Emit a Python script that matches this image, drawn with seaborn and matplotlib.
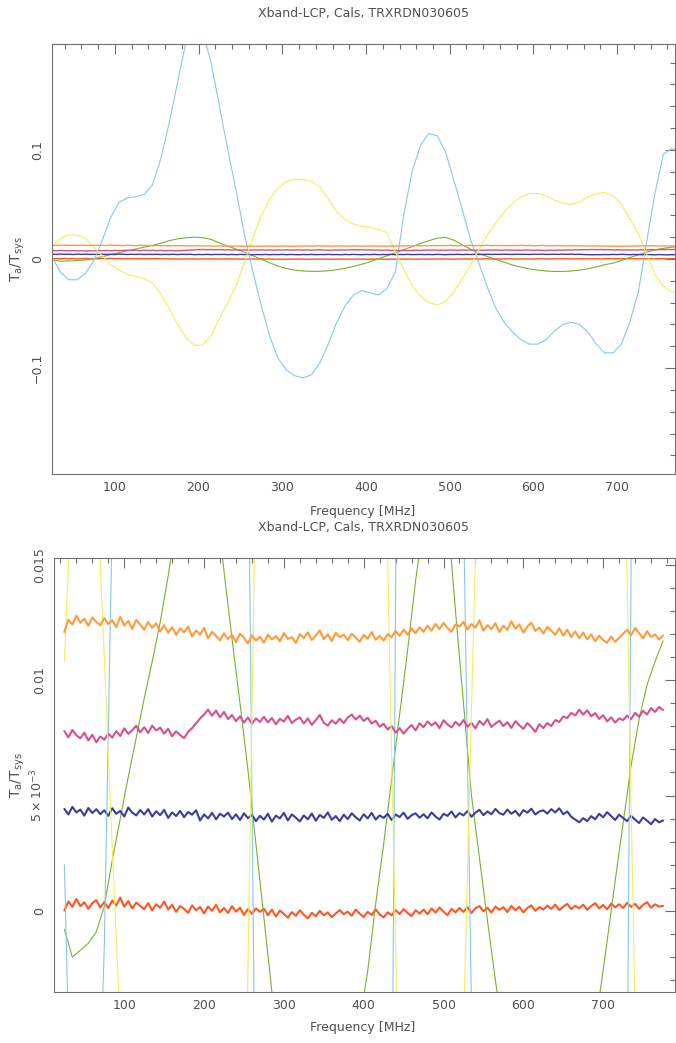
import pandas as pd
import matplotlib
matplotlib.use("Agg")
import matplotlib.pyplot as plt
import seaborn as sns
from matplotlib.ticker import MultipleLocator, FixedLocator, FixedFormatter

title = "Xband-LCP, Cals, TRXRDN030605"
xlabel = "Frequency [MHz]"
ylabel = r"$\mathregular{T_a/T_{sys}}$"

# smooth cal curves, one value every 10 MHz (25 ... 775)
freq_smooth = list(range(25, 776, 10))
green = [-0.0008, -0.0020, -0.0017, -0.0014, -0.0009, 0.0002, 0.0022, 0.0040, 0.0058, 0.0075,
         0.0092, 0.0108, 0.0125, 0.0145, 0.0168, 0.0185, 0.0195, 0.0200, 0.0195, 0.0180,
         0.0147, 0.0118, 0.0090, 0.0061, 0.0029, -0.0003, -0.0035, -0.0065, -0.0088, -0.0102,
         -0.0110, -0.0113, -0.0112, -0.0108, -0.0098, -0.0085, -0.0068, -0.0048, -0.0026, 0.0003,
         0.0029, 0.0057, 0.0085, 0.0113, 0.0143, 0.0168, 0.0190, 0.0198, 0.0172, 0.0130,
         0.0090, 0.0050, 0.0023, -0.0004, -0.0030, -0.0055, -0.0075, -0.0090, -0.0102, -0.0110,
         -0.0114, -0.0114, -0.0110, -0.0102, -0.0090, -0.0072, -0.0052, -0.0038, -0.0013, 0.0013,
         0.0038, 0.0063, 0.0083, 0.0098, 0.0108, 0.0117]
cyan = [0.002, -0.012, -0.019, -0.019, -0.013, -0.0015, 0.017, 0.038, 0.052, 0.056,
        0.057, 0.059, 0.068, 0.092, 0.125, 0.162, 0.199, 0.215, 0.208, 0.180,
        0.140, 0.100, 0.062, 0.022, -0.012, -0.043, -0.071, -0.091, -0.102, -0.107,
        -0.109, -0.106, -0.095, -0.078, -0.058, -0.043, -0.033, -0.029, -0.031, -0.033,
        -0.027, -0.012, 0.040, 0.080, 0.104, 0.115, 0.113, 0.098, 0.072, 0.045,
        0.0175, -0.0042, -0.026, -0.045, -0.058, -0.067, -0.074, -0.078, -0.078, -0.074,
        -0.066, -0.060, -0.058, -0.060, -0.067, -0.078, -0.086, -0.086, -0.078, -0.058,
        -0.031, 0.015, 0.060, 0.096, 0.101, 0.099]
yellow = [0.0108, 0.019, 0.022, 0.022, 0.019, 0.011, 0.0027, -0.005, -0.010, -0.014,
          -0.016, -0.018, -0.022, -0.032, -0.045, -0.060, -0.072, -0.079, -0.079, -0.070,
          -0.054, -0.040, -0.024, -0.0024, 0.0197, 0.040, 0.055, 0.065, 0.071, 0.073,
          0.073, 0.071, 0.066, 0.055, 0.043, 0.036, 0.032, 0.030, 0.029, 0.027,
          0.024, 0.0067, -0.0098, -0.024, -0.034, -0.040, -0.042, -0.039, -0.030, -0.018,
          -0.0053, 0.0087, 0.022, 0.033, 0.043, 0.051, 0.057, 0.060, 0.060, 0.058,
          0.054, 0.051, 0.050, 0.052, 0.057, 0.060, 0.061, 0.058, 0.050, 0.037,
          0.0237, 0.0047, -0.014, -0.025, -0.030, -0.031]

# noisy cal levels, one value every 5 MHz (25 ... 775)
freq_noisy = list(range(25, 776, 5))
red = [0.00002, 0.00041, 0.00018, 0.00052, 0.00021, 0.00038, 0.00009, 0.00034, 0.00047, 0.00015,
       0.00039, 0.00012, 0.00045, 0.00024, 0.00058, 0.00019, 0.00043, 0.00011, 0.00036, 0.00022,
       0.00008, 0.00034, 0.00002, 0.00029, 0.00014, 0.00041, 0.00006, 0.00027, -0.00004, 0.00021,
       0.00009, -0.00008, 0.00024, 0.00003, 0.00017, -0.00011, 0.00019, 0.00001, 0.00026, -0.00006,
       0.00013, -0.00009, 0.00021, -0.00003, 0.00014, -0.00017, 0.00008, -0.00012, 0.00011, -0.00004,
       0.00009, -0.00018, 0.00006, -0.00024, 0.00002, -0.00013, -0.00029, -0.00005, -0.00021, 0.00003,
       -0.00016, -0.00032, -0.00008, -0.00023, 0.00001, -0.00019, -0.00006, -0.00027, -0.00011, 0.00004,
       -0.00014, -0.00003, -0.00021, 0.00006, -0.00012, -0.00026, -0.00004, -0.00018, 0.00007, -0.00015,
       -0.00028, -0.00006, -0.00019, 0.00004, -0.00013, 0.00008, -0.00009, -0.00022, 0.00003, -0.00011,
       0.00006, -0.00014, 0.00011, -0.00007, 0.00015, -0.00003, -0.00018, 0.00009, -0.00006, 0.00013,
       -0.00004, 0.00017, -0.00009, 0.00012, 0.00021, -0.00002, 0.00014, -0.00007, 0.00019, 0.00005,
       0.00016, -0.00005, 0.00022, 0.00003, 0.00018, -0.00006, 0.00013, 0.00024, 0.00001, 0.00017,
       0.00006, 0.00023, 0.00009, 0.00028, 0.00004, 0.00019, 0.00031, 0.00008, 0.00022, 0.00012,
       0.00027, 0.00005, 0.00021, 0.00034, 0.00011, 0.00026, 0.00007, 0.00032, 0.00016, 0.00029,
       0.00013, 0.00035, 0.00018, 0.00031, 0.00009, 0.00027, 0.00038, 0.00014, 0.00029, 0.00019,
       0.00022]
blue = [0.00442, 0.00418, 0.00451, 0.00427, 0.00439, 0.00413, 0.00446, 0.00424, 0.00441, 0.00419,
        0.00436, 0.00412, 0.00445, 0.00421, 0.00433, 0.00409, 0.00448, 0.00426, 0.00414, 0.00437,
        0.00418, 0.00441, 0.00409, 0.00432, 0.00415, 0.00438, 0.00403, 0.00427, 0.00411, 0.00434,
        0.00406, 0.00429, 0.00417, 0.00436, 0.00392, 0.00418, 0.00401, 0.00425, 0.00397, 0.00421,
        0.00409, 0.00426, 0.00398, 0.00419, 0.00394, 0.00423, 0.00402, 0.00416, 0.00389, 0.00412,
        0.00396, 0.00421, 0.00387, 0.00413, 0.00401, 0.00425, 0.00392, 0.00418, 0.00404, 0.00388,
        0.00414, 0.00397, 0.00422, 0.00391, 0.00416, 0.00403, 0.00427, 0.00395, 0.00411, 0.00389,
        0.00417, 0.00398, 0.00423, 0.00406, 0.00392, 0.00419, 0.00401, 0.00425, 0.00396, 0.00414,
        0.00403, 0.00421, 0.00394, 0.00418, 0.00407, 0.00426, 0.00399, 0.00415, 0.00423, 0.00404,
        0.00419, 0.00401, 0.00427, 0.00409, 0.00396, 0.00421, 0.00412, 0.00431, 0.00405, 0.00424,
        0.00414, 0.00433, 0.00408, 0.00426, 0.00438, 0.00415, 0.00431, 0.00419, 0.00442, 0.00424,
        0.00417, 0.00439, 0.00421, 0.00434, 0.00412, 0.00437, 0.00426, 0.00443, 0.00418, 0.00431,
        0.00436, 0.00422, 0.00441, 0.00427, 0.00445, 0.00419, 0.00431, 0.00408, 0.00396, 0.00384,
        0.00402, 0.00389, 0.00411, 0.00397, 0.00421, 0.00406, 0.00428, 0.00411, 0.00394, 0.00417,
        0.00403, 0.00389, 0.00412, 0.00396, 0.00381, 0.00405, 0.00391, 0.00376, 0.00398, 0.00384,
        0.00392]
pink = [0.00779, 0.00752, 0.00784, 0.00761, 0.00748, 0.00772, 0.00739, 0.00763, 0.00731, 0.00756,
        0.00742, 0.00768, 0.00751, 0.00779, 0.00758, 0.00791, 0.00767, 0.00783, 0.00802, 0.00774,
        0.00796, 0.00771, 0.00803, 0.00782, 0.00794, 0.00768, 0.00789, 0.00757, 0.00778, 0.00762,
        0.00749, 0.00776, 0.00792, 0.00813, 0.00834, 0.00851, 0.00872, 0.00846, 0.00868, 0.00839,
        0.00862, 0.00831, 0.00849, 0.00822, 0.00843, 0.00816, 0.00838, 0.00811, 0.00834, 0.00819,
        0.00841, 0.00817, 0.00836, 0.00809, 0.00832, 0.00821, 0.00845, 0.00814, 0.00829, 0.00838,
        0.00812, 0.00834, 0.00806, 0.00827, 0.00849, 0.00815, 0.00803, 0.00826, 0.00811, 0.00833,
        0.00814, 0.00838, 0.00851, 0.00829, 0.00846, 0.00823, 0.00837, 0.00812, 0.00824, 0.00798,
        0.00811, 0.00786, 0.00801, 0.00773, 0.00792, 0.00768, 0.00789, 0.00806, 0.00782, 0.00813,
        0.00796, 0.00821, 0.00804, 0.00817, 0.00792, 0.00826, 0.00808, 0.00795, 0.00819, 0.00803,
        0.00827, 0.00798, 0.00815, 0.00791, 0.00823, 0.00806, 0.00831, 0.00797, 0.00812, 0.00824,
        0.00801, 0.00818, 0.00793, 0.00822, 0.00805, 0.00789, 0.00814, 0.00797, 0.00776, 0.00809,
        0.00792, 0.00814, 0.00801, 0.00827, 0.00819, 0.00842, 0.00836, 0.00858, 0.00847, 0.00872,
        0.00851, 0.00869, 0.00843, 0.00857, 0.00832, 0.00848, 0.00821, 0.00839, 0.00816, 0.00834,
        0.00827, 0.00846, 0.00831, 0.00858, 0.00842, 0.00867, 0.00851, 0.00879, 0.00862, 0.00884,
        0.00871]
orange = [0.01208, 0.01262, 0.01241, 0.01279, 0.01248, 0.01266, 0.01235, 0.01271, 0.01252, 0.01238,
          0.01268, 0.01243, 0.01259, 0.01229, 0.01274, 0.01236, 0.01257, 0.01222, 0.01261, 0.01240,
          0.01218, 0.01252, 0.01227, 0.01246, 0.01211, 0.01238, 0.01205, 0.01229, 0.01196, 0.01224,
          0.01207, 0.01232, 0.01189, 0.01215, 0.01198, 0.01226, 0.01181, 0.01209, 0.01192, 0.01172,
          0.01203, 0.01178, 0.01196, 0.01165, 0.01201, 0.01183, 0.01159, 0.01194, 0.01171, 0.01188,
          0.01162, 0.01197, 0.01176, 0.01191, 0.01168, 0.01204, 0.01179, 0.01186, 0.01161, 0.01199,
          0.01182, 0.01207, 0.01174, 0.01193, 0.01215, 0.01178, 0.01198, 0.01169, 0.01205, 0.01186,
          0.01197, 0.01173, 0.01201, 0.01184, 0.01166, 0.01196, 0.01179, 0.01208, 0.01175, 0.01191,
          0.01171, 0.01199, 0.01186, 0.01213, 0.01192, 0.01218, 0.01197, 0.01224, 0.01203, 0.01229,
          0.01209, 0.01236, 0.01214, 0.01243, 0.01221, 0.01248, 0.01226, 0.01209, 0.01241, 0.01232,
          0.01252, 0.01219, 0.01243, 0.01227, 0.01259, 0.01214, 0.01238, 0.01221, 0.01247, 0.01208,
          0.01236, 0.01218, 0.01255, 0.01223, 0.01241, 0.01206, 0.01232, 0.01249, 0.01213, 0.01228,
          0.01202, 0.01231, 0.01214, 0.01196, 0.01225, 0.01193, 0.01218, 0.01187, 0.01211, 0.01182,
          0.01206, 0.01177, 0.01198, 0.01169, 0.01192, 0.01174, 0.01161, 0.01189, 0.01166, 0.01183,
          0.01201, 0.01218, 0.01194, 0.01226, 0.01203, 0.01181, 0.01212, 0.01187, 0.01198, 0.01176,
          0.01193]

# pgplot colour index order 2..8
order = ["red", "green", "blue", "cyan", "pink", "yellow", "orange"]
palette = {"red": "#ff5524", "green": "#7ab030", "blue": "#3c3c9c", "cyan": "#86c8ec",
           "pink": "#d4508e", "yellow": "#f4ee5a", "orange": "#ff9a3c"}

series = {"red": (freq_noisy, red), "green": (freq_smooth, green), "blue": (freq_noisy, blue),
          "cyan": (freq_smooth, cyan), "pink": (freq_noisy, pink),
          "yellow": (freq_smooth, yellow), "orange": (freq_noisy, orange)}
df = pd.concat([pd.DataFrame({"freq": f, "value": v, "series": name})
                for name, (f, v) in series.items()], ignore_index=True)
noisy = {"red", "blue", "pink", "orange"}

sns.set_style("white")
plt.rcParams["font.family"] = ["DejaVu Sans"]
plt.rcParams["mathtext.fontset"] = "dejavusans"

W, H = 676, 1043
fig = plt.figure(figsize=(W / 100, H / 100), dpi=100)

def px_axes(l, t, r, b):
    return fig.add_axes([l / W, 1 - b / H, (r - l) / W, (b - t) / H])

ax1 = px_axes(52, 44, 675, 474)
ax2 = px_axes(54, 558, 675, 992)

axis_col = "#707070"
text_col = "#505050"

for ax, noisy_lw in ((ax1, 1.0), (ax2, 1.5)):
    for name in order:
        sns.lineplot(data=df[df["series"] == name], x="freq", y="value",
                     color=palette[name], linewidth=noisy_lw if name in noisy else 0.8,
                     estimator=None, ax=ax)
    ax.set_xlabel("")
    ax.set_ylabel("")
    ax.xaxis.set_major_locator(MultipleLocator(100))
    ax.xaxis.set_minor_locator(MultipleLocator(20))
    for s in ax.spines.values():
        s.set_color(axis_col)
        s.set_linewidth(0.8)
    ax.tick_params(which="both", direction="in", top=True, right=True,
                   color=axis_col, labelcolor=text_col, labelsize=9, width=0.8)
    ax.tick_params(which="major", length=7)
    ax.tick_params(which="minor", length=3.5)
    ax.tick_params(axis="x", pad=5)
    ax.tick_params(axis="y", pad=6, labelrotation=90)

# top panel
ax1.set_xlim(25, 769)
ax1.set_ylim(-0.197, 0.197)
ax1.yaxis.set_major_locator(FixedLocator([-0.1, 0, 0.1]))
ax1.yaxis.set_major_formatter(FixedFormatter(["\u22120.1", "0", "0.1"]))
ax1.yaxis.set_minor_locator(MultipleLocator(0.02))

# bottom panel (zoom on the cal levels)
ax2.set_xlim(12, 790)
ax2.set_ylim(-0.00351, 0.01529)
ax2.yaxis.set_major_locator(FixedLocator([0, 0.005, 0.01, 0.015]))
ax2.yaxis.set_major_formatter(FixedFormatter(["0", r"$5\times10^{-3}$", "0.01", "0.015"]))
ax2.yaxis.set_minor_locator(MultipleLocator(0.001))

for ax in (ax1, ax2):
    for lab in ax.get_yticklabels():
        lab.set_verticalalignment("center")

def px_text(x, y, s, size=9, **kw):
    fig.text(x / W, 1 - y / H, s, ha="center", va="center", color=text_col,
             fontsize=size, **kw)

px_text(363, 13, title)
px_text(363, 511, xlabel)
px_text(363, 527, title)
px_text(363, 1028, xlabel)
px_text(18, 259, ylabel, size=10, rotation=90)
px_text(18, 775, ylabel, size=10, rotation=90)

fig.savefig("out.png", dpi=100)
